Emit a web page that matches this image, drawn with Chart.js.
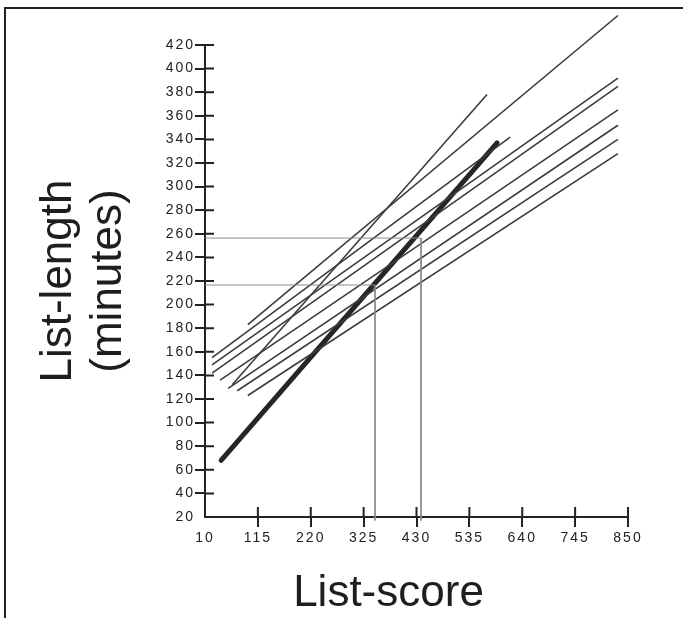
<!DOCTYPE html>
<html>
<head>
<meta charset="utf-8">
<script src="https://cdn.jsdelivr.net/npm/chart.js@4/dist/chart.umd.min.js"></script>
<style>
  html, body { margin: 0; padding: 0; background: #fff; overflow: hidden; }
  #frame { position: absolute; left: 4px; top: 7px; width: 800px; height: 800px;
           border-top: 2px solid #222; border-left: 2px solid #222; }
  #wrap { position: absolute; left: 0; top: 0; width: 683px; height: 618px; }
</style>
</head>
<body>
<div id="frame"></div>
<div id="wrap"><canvas id="c" width="683" height="618"></canvas></div>
<script>
// ---- data ----
const xTicks = [10, 115, 220, 325, 430, 535, 640, 745, 850];
const yTicks = [20, 40, 60, 80, 100, 120, 140, 160, 180, 200, 220, 240, 260, 280, 300, 320, 340, 360, 380, 400, 420];

// thin regression lines: start (x,y) and end (x,y)
const thinStartX = [64, 95, 24, 24, 24, 40, 56, 74, 95];
const thinStartY = [132, 183, 155, 149, 142, 136, 129, 127, 123];
const thinEndX   = [570, 830, 616, 830, 830, 830, 830, 830, 830];
const thinEndY   = [378, 445, 342, 392, 385, 365, 352, 340, 328];

// thick (overall) line
const boldX = [42, 590];
const boldY = [68, 337];

// read-off guide lines
const guideX = [347.6, 439];
const guideY = [216.6, 256.4];
const guideFloor = 17;

const xTitle = 'List-score';
const yTitle = ['List-length', '(minutes)'];

// ---- build datasets ----
const datasets = [];
for (let i = 0; i < guideX.length; i++) {
  datasets.push({
    data: [{x: xTicks[0], y: guideY[i]}, {x: guideX[i], y: guideY[i]}, {x: guideX[i], y: guideFloor}],
    borderColor: '#8a8a8a', borderWidth: 1, pointRadius: 0, tension: 0, clip: false
  });
}
for (let i = 0; i < thinStartX.length; i++) {
  datasets.push({
    data: [{x: thinStartX[i], y: thinStartY[i]}, {x: thinEndX[i], y: thinEndY[i]}],
    borderColor: '#3c3c3c', borderWidth: 1.6, pointRadius: 0, tension: 0, clip: false
  });
}
datasets.push({
  data: [{x: boldX[0], y: boldY[0]}, {x: boldX[1], y: boldY[1]}],
  borderColor: '#262626', borderWidth: 5, pointRadius: 0, tension: 0, borderCapStyle: 'round', clip: false
});

const tickFont = {family: "'Liberation Sans', Arial, sans-serif", size: 14};

const innerTicks = {
  id: 'innerTicks',
  beforeDraw(chart) { chart.ctx.letterSpacing = '2px'; },
  afterDraw(chart) {
    const ctx = chart.ctx;
    const xs = chart.scales.x, ys = chart.scales.y;
    ctx.save();
    ctx.letterSpacing = '0px';
    ctx.strokeStyle = '#222';
    ctx.lineWidth = 2;
    ctx.beginPath();
    for (let i = 1; i < ys.ticks.length; i++) {
      const p = ys.getPixelForTick(i);
      ctx.moveTo(ys.right, p); ctx.lineTo(ys.right + 9, p);
    }
    for (let i = 1; i < xs.ticks.length; i++) {
      const p = xs.getPixelForTick(i);
      ctx.moveTo(p, xs.top); ctx.lineTo(p, xs.top - 10);
    }
    ctx.stroke();
    // axis titles
    const ca = chart.chartArea;
    ctx.fillStyle = '#1e1e1e';
    ctx.font = "44px 'Liberation Sans', Arial, sans-serif";
    ctx.textAlign = 'center';
    ctx.textBaseline = 'alphabetic';
    ctx.fillText(xTitle, (ca.left + ca.right) / 2 - 28, ca.bottom + 89);
    const cy = (ca.top + ca.bottom) / 2;
    const baselines = [71, 121];
    for (let i = 0; i < yTitle.length; i++) {
      ctx.save();
      ctx.translate(baselines[i], cy);
      ctx.rotate(-Math.PI / 2);
      ctx.fillText(yTitle[i], 0, 0);
      ctx.restore();
    }
    ctx.restore();
  }
};

new Chart(document.getElementById('c'), {
  type: 'line',
  data: { datasets },
  options: {
    responsive: false,
    animation: false,
    events: [],
    layout: { padding: { top: 45, right: 55, left: 0, bottom: 0 } },
    plugins: { legend: { display: false }, tooltip: { enabled: false } },
    scales: {
      x: {
        type: 'linear', min: xTicks[0], max: xTicks[xTicks.length - 1],
        afterBuildTicks(s) { s.ticks = xTicks.map(v => ({value: v})); },
        afterFit(s) { s.height = 101; },
        ticks: { color: '#222', font: tickFont, padding: 3, maxRotation: 0, autoSkip: false },
        grid: { drawOnChartArea: false, drawTicks: true, tickLength: 10, lineWidth: 2,
                color: c => c.index === 0 ? 'rgba(0,0,0,0)' : '#222' },
        border: { display: true, color: '#222', width: 2 }
      },
      y: {
        type: 'linear', min: yTicks[0], max: yTicks[yTicks.length - 1],
        afterBuildTicks(s) { s.ticks = yTicks.map(v => ({value: v})); },
        afterFit(s) { s.width = 205; },
        ticks: { color: '#222', font: tickFont, padding: 0, autoSkip: false },
        grid: { drawOnChartArea: false, drawTicks: true, tickLength: 10, lineWidth: 2,
                color: c => c.index === 0 ? 'rgba(0,0,0,0)' : '#222' },
        border: { display: true, color: '#222', width: 2 }
      }
    }
  },
  plugins: [innerTicks]
});
</script>
</body>
</html>
